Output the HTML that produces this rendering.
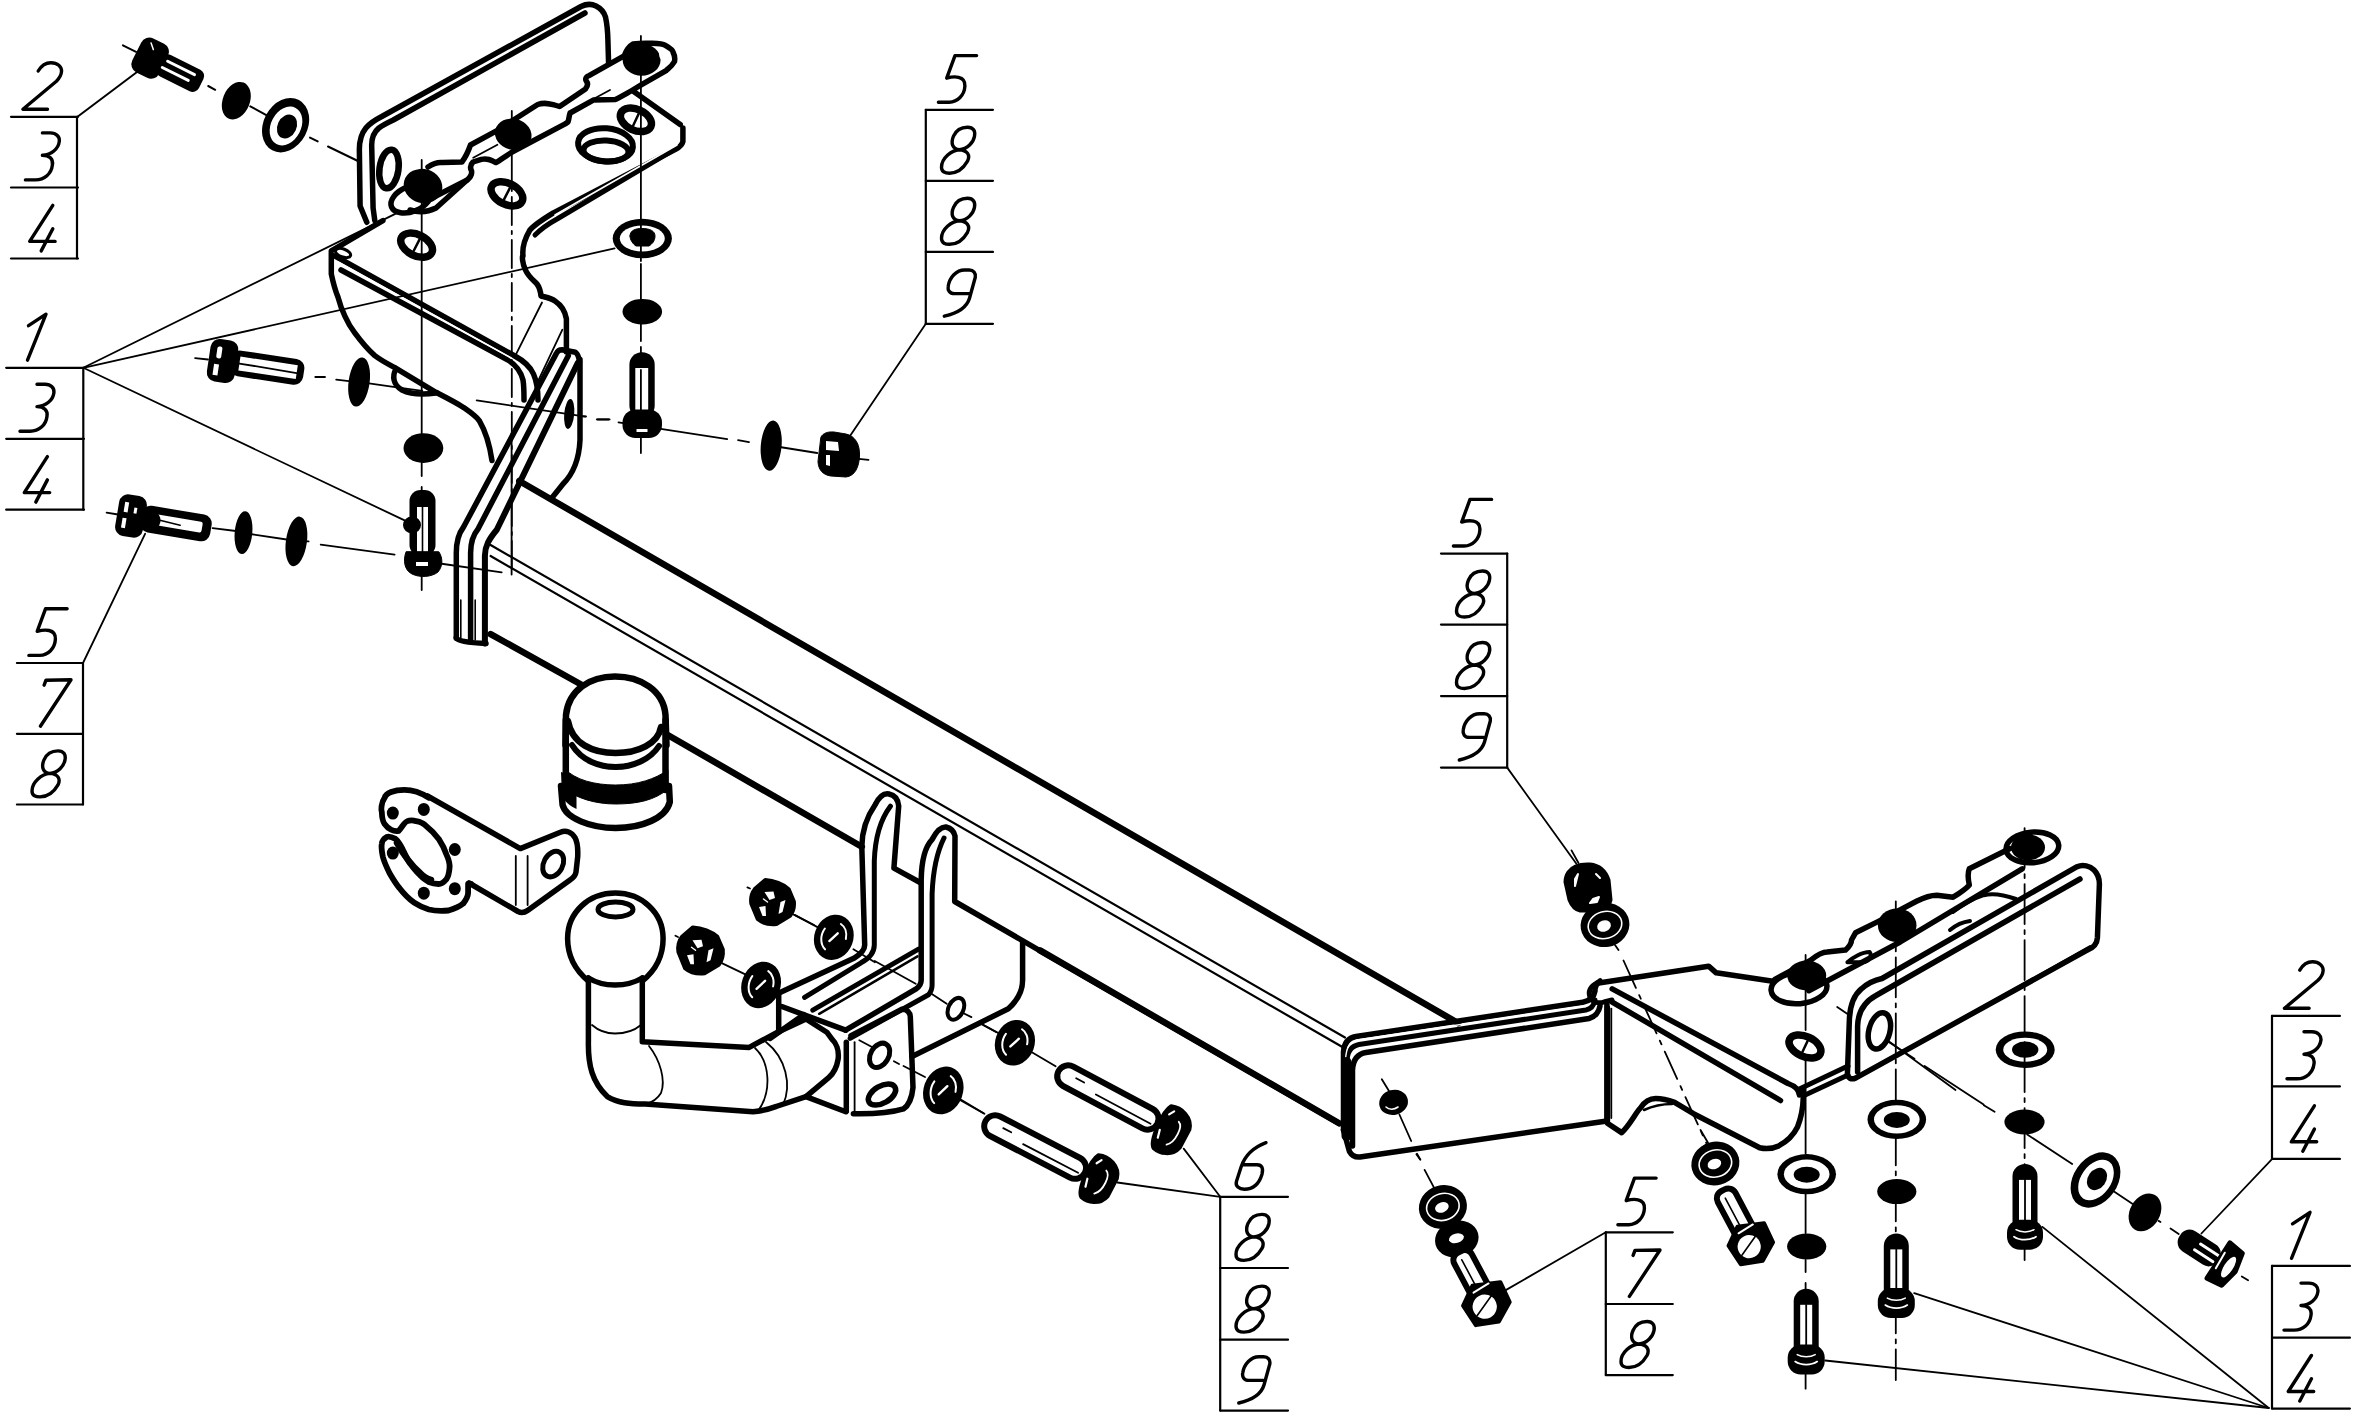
<!DOCTYPE html>
<html><head><meta charset="utf-8"><style>
html,body{margin:0;padding:0;background:#fff;}
svg{display:block;}
</style></head><body>
<svg xmlns="http://www.w3.org/2000/svg" width="2356" height="1427" viewBox="0 0 2356 1427" stroke-linecap="round" stroke-linejoin="round">
<rect width="2356" height="1427" fill="#fff"/>
<line x1="11" y1="116.8" x2="78" y2="116.8" stroke="#000" stroke-width="2.2" />
<line x1="11" y1="187.5" x2="78" y2="187.5" stroke="#000" stroke-width="2.2" />
<line x1="11" y1="258.5" x2="78" y2="258.5" stroke="#000" stroke-width="2.2" />
<line x1="77" y1="116.8" x2="77" y2="258.5" stroke="#000" stroke-width="2.2" />
<path d="M-4.2,-38.2 C-0.5,-44.5 4,-46.5 8.5,-46.5 C15,-46.5 19.5,-42.5 19.1,-37.5 C18.8,-33.5 17,-31 14,-28 L-19.5,0 L5.1,0" transform="translate(42.4 109.2)" fill="none" stroke="#000" stroke-width="3.4" stroke-linecap="round" stroke-linejoin="round"/>
<path d="M0,-47 L8,-47 C14,-47 17.5,-43 16.9,-38.5 C16,-31 9,-25 0,-24.6 C7,-24.6 11,-21 10,-15 C9,-6 2,0 -6.9,0 L-17,0" transform="translate(42.4 179.9)" fill="none" stroke="#000" stroke-width="3.4" stroke-linecap="round" stroke-linejoin="round"/>
<path d="M10.4,-45.5 L-12.7,-9.5 L12.7,-9.5 M10.4,-22.2 L-1.2,0" transform="translate(42.4 250.9)" fill="none" stroke="#000" stroke-width="3.4" stroke-linecap="round" stroke-linejoin="round"/>
<line x1="6.2" y1="367.8" x2="84" y2="367.8" stroke="#000" stroke-width="2.2" />
<line x1="6.2" y1="438.8" x2="84" y2="438.8" stroke="#000" stroke-width="2.2" />
<line x1="6.2" y1="509.7" x2="84" y2="509.7" stroke="#000" stroke-width="2.2" />
<line x1="83.3" y1="367.8" x2="83.3" y2="509.7" stroke="#000" stroke-width="2.2" />
<path d="M-8.5,-34.5 L9,-46 L-9.5,0" transform="translate(37 360.2)" fill="none" stroke="#000" stroke-width="3.4" stroke-linecap="round" stroke-linejoin="round"/>
<path d="M0,-47 L8,-47 C14,-47 17.5,-43 16.9,-38.5 C16,-31 9,-25 0,-24.6 C7,-24.6 11,-21 10,-15 C9,-6 2,0 -6.9,0 L-17,0" transform="translate(37 431.2)" fill="none" stroke="#000" stroke-width="3.4" stroke-linecap="round" stroke-linejoin="round"/>
<path d="M10.4,-45.5 L-12.7,-9.5 L12.7,-9.5 M10.4,-22.2 L-1.2,0" transform="translate(37 502.09999999999997)" fill="none" stroke="#000" stroke-width="3.4" stroke-linecap="round" stroke-linejoin="round"/>
<line x1="16.9" y1="663" x2="83" y2="663" stroke="#000" stroke-width="2.2" />
<line x1="16.9" y1="733.8" x2="83" y2="733.8" stroke="#000" stroke-width="2.2" />
<line x1="16.9" y1="804.5" x2="83" y2="804.5" stroke="#000" stroke-width="2.2" />
<line x1="83" y1="663" x2="83" y2="804.5" stroke="#000" stroke-width="2.2" />
<path d="M19.1,-46.6 L-2.5,-46.6 L-10.8,-24 C-4,-26 8,-27 7.4,-16.2 C7,-7 0,0 -8.3,0 L-19.1,0" transform="translate(48 655.4)" fill="none" stroke="#000" stroke-width="3.4" stroke-linecap="round" stroke-linejoin="round"/>
<path d="M-3.9,-41 L-2,-46 L23,-46.4 L-7.6,0" transform="translate(48 726.1999999999999)" fill="none" stroke="#000" stroke-width="3.4" stroke-linecap="round" stroke-linejoin="round"/>
<path d="M1.8,-23.5 C-5,-24 -7,-30 -4,-37 C-1,-44 5,-46 10,-46 C16,-46 18,-42 17,-37 C16,-31 10,-24 1.8,-23.5 C-6,-23 -16,-15 -16,-6 C-16,-1 -12,0 -8,0 C0,0 6,-5 10,-12 C13,-18 10,-23 1.8,-23.5 Z" transform="translate(48 796.9)" fill="none" stroke="#000" stroke-width="3.4" stroke-linecap="round" stroke-linejoin="round"/>
<line x1="925.8" y1="109.8" x2="993" y2="109.8" stroke="#000" stroke-width="2.2" />
<line x1="925.8" y1="180.8" x2="993" y2="180.8" stroke="#000" stroke-width="2.2" />
<line x1="925.8" y1="251.9" x2="993" y2="251.9" stroke="#000" stroke-width="2.2" />
<line x1="925.8" y1="323.8" x2="993" y2="323.8" stroke="#000" stroke-width="2.2" />
<line x1="925.8" y1="109.8" x2="925.8" y2="323.8" stroke="#000" stroke-width="2.2" />
<path d="M19.1,-46.6 L-2.5,-46.6 L-10.8,-24 C-4,-26 8,-27 7.4,-16.2 C7,-7 0,0 -8.3,0 L-19.1,0" transform="translate(957.5 102.2)" fill="none" stroke="#000" stroke-width="3.4" stroke-linecap="round" stroke-linejoin="round"/>
<path d="M1.8,-23.5 C-5,-24 -7,-30 -4,-37 C-1,-44 5,-46 10,-46 C16,-46 18,-42 17,-37 C16,-31 10,-24 1.8,-23.5 C-6,-23 -16,-15 -16,-6 C-16,-1 -12,0 -8,0 C0,0 6,-5 10,-12 C13,-18 10,-23 1.8,-23.5 Z" transform="translate(957.5 173.20000000000002)" fill="none" stroke="#000" stroke-width="3.4" stroke-linecap="round" stroke-linejoin="round"/>
<path d="M1.8,-23.5 C-5,-24 -7,-30 -4,-37 C-1,-44 5,-46 10,-46 C16,-46 18,-42 17,-37 C16,-31 10,-24 1.8,-23.5 C-6,-23 -16,-15 -16,-6 C-16,-1 -12,0 -8,0 C0,0 6,-5 10,-12 C13,-18 10,-23 1.8,-23.5 Z" transform="translate(957.5 244.3)" fill="none" stroke="#000" stroke-width="3.4" stroke-linecap="round" stroke-linejoin="round"/>
<path d="M11.2,-22.6 L-3,-22.6 C-8,-22.6 -10,-26 -9.3,-30 C-8,-39 -1,-46.2 7,-46.2 L11.7,-46.2 C16,-46.2 18.5,-43 17.8,-39 L12,-18 C9,-8 0,-3 -13.2,0" transform="translate(957.5 316.2)" fill="none" stroke="#000" stroke-width="3.4" stroke-linecap="round" stroke-linejoin="round"/>
<line x1="1441" y1="553.6" x2="1507.2" y2="553.6" stroke="#000" stroke-width="2.2" />
<line x1="1441" y1="624.6" x2="1507.2" y2="624.6" stroke="#000" stroke-width="2.2" />
<line x1="1441" y1="696.1" x2="1507.2" y2="696.1" stroke="#000" stroke-width="2.2" />
<line x1="1441" y1="767.6" x2="1507.2" y2="767.6" stroke="#000" stroke-width="2.2" />
<line x1="1507.2" y1="553.6" x2="1507.2" y2="767.6" stroke="#000" stroke-width="2.2" />
<path d="M19.1,-46.6 L-2.5,-46.6 L-10.8,-24 C-4,-26 8,-27 7.4,-16.2 C7,-7 0,0 -8.3,0 L-19.1,0" transform="translate(1472.5 546.0)" fill="none" stroke="#000" stroke-width="3.4" stroke-linecap="round" stroke-linejoin="round"/>
<path d="M1.8,-23.5 C-5,-24 -7,-30 -4,-37 C-1,-44 5,-46 10,-46 C16,-46 18,-42 17,-37 C16,-31 10,-24 1.8,-23.5 C-6,-23 -16,-15 -16,-6 C-16,-1 -12,0 -8,0 C0,0 6,-5 10,-12 C13,-18 10,-23 1.8,-23.5 Z" transform="translate(1472.5 617.0)" fill="none" stroke="#000" stroke-width="3.4" stroke-linecap="round" stroke-linejoin="round"/>
<path d="M1.8,-23.5 C-5,-24 -7,-30 -4,-37 C-1,-44 5,-46 10,-46 C16,-46 18,-42 17,-37 C16,-31 10,-24 1.8,-23.5 C-6,-23 -16,-15 -16,-6 C-16,-1 -12,0 -8,0 C0,0 6,-5 10,-12 C13,-18 10,-23 1.8,-23.5 Z" transform="translate(1472.5 688.5)" fill="none" stroke="#000" stroke-width="3.4" stroke-linecap="round" stroke-linejoin="round"/>
<path d="M11.2,-22.6 L-3,-22.6 C-8,-22.6 -10,-26 -9.3,-30 C-8,-39 -1,-46.2 7,-46.2 L11.7,-46.2 C16,-46.2 18.5,-43 17.8,-39 L12,-18 C9,-8 0,-3 -13.2,0" transform="translate(1472.5 760.0)" fill="none" stroke="#000" stroke-width="3.4" stroke-linecap="round" stroke-linejoin="round"/>
<line x1="1220.2" y1="1196.8" x2="1288" y2="1196.8" stroke="#000" stroke-width="2.2" />
<line x1="1220.2" y1="1268" x2="1288" y2="1268" stroke="#000" stroke-width="2.2" />
<line x1="1220.2" y1="1339.7" x2="1288" y2="1339.7" stroke="#000" stroke-width="2.2" />
<line x1="1220.2" y1="1410.6" x2="1288" y2="1410.6" stroke="#000" stroke-width="2.2" />
<line x1="1220.2" y1="1196.8" x2="1220.2" y2="1410.6" stroke="#000" stroke-width="2.2" />
<path d="M14,-46.5 C2,-42 -7,-34 -11,-22 L-15.5,-8 C-17,-3 -13,0 -7.6,0 C1,0 7,-5 10,-15 C11.5,-21 10,-24.5 5,-24.5 L-10,-24.5" transform="translate(1252 1189.2)" fill="none" stroke="#000" stroke-width="3.4" stroke-linecap="round" stroke-linejoin="round"/>
<path d="M1.8,-23.5 C-5,-24 -7,-30 -4,-37 C-1,-44 5,-46 10,-46 C16,-46 18,-42 17,-37 C16,-31 10,-24 1.8,-23.5 C-6,-23 -16,-15 -16,-6 C-16,-1 -12,0 -8,0 C0,0 6,-5 10,-12 C13,-18 10,-23 1.8,-23.5 Z" transform="translate(1252 1260.4)" fill="none" stroke="#000" stroke-width="3.4" stroke-linecap="round" stroke-linejoin="round"/>
<path d="M1.8,-23.5 C-5,-24 -7,-30 -4,-37 C-1,-44 5,-46 10,-46 C16,-46 18,-42 17,-37 C16,-31 10,-24 1.8,-23.5 C-6,-23 -16,-15 -16,-6 C-16,-1 -12,0 -8,0 C0,0 6,-5 10,-12 C13,-18 10,-23 1.8,-23.5 Z" transform="translate(1252 1332.1000000000001)" fill="none" stroke="#000" stroke-width="3.4" stroke-linecap="round" stroke-linejoin="round"/>
<path d="M11.2,-22.6 L-3,-22.6 C-8,-22.6 -10,-26 -9.3,-30 C-8,-39 -1,-46.2 7,-46.2 L11.7,-46.2 C16,-46.2 18.5,-43 17.8,-39 L12,-18 C9,-8 0,-3 -13.2,0" transform="translate(1252 1403.0)" fill="none" stroke="#000" stroke-width="3.4" stroke-linecap="round" stroke-linejoin="round"/>
<line x1="1605.8" y1="1232.3" x2="1672.8" y2="1232.3" stroke="#000" stroke-width="2.2" />
<line x1="1605.8" y1="1304" x2="1672.8" y2="1304" stroke="#000" stroke-width="2.2" />
<line x1="1605.8" y1="1375.1" x2="1672.8" y2="1375.1" stroke="#000" stroke-width="2.2" />
<line x1="1605.8" y1="1232.3" x2="1605.8" y2="1375.1" stroke="#000" stroke-width="2.2" />
<path d="M19.1,-46.6 L-2.5,-46.6 L-10.8,-24 C-4,-26 8,-27 7.4,-16.2 C7,-7 0,0 -8.3,0 L-19.1,0" transform="translate(1637 1224.7)" fill="none" stroke="#000" stroke-width="3.4" stroke-linecap="round" stroke-linejoin="round"/>
<path d="M-3.9,-41 L-2,-46 L23,-46.4 L-7.6,0" transform="translate(1637 1296.4)" fill="none" stroke="#000" stroke-width="3.4" stroke-linecap="round" stroke-linejoin="round"/>
<path d="M1.8,-23.5 C-5,-24 -7,-30 -4,-37 C-1,-44 5,-46 10,-46 C16,-46 18,-42 17,-37 C16,-31 10,-24 1.8,-23.5 C-6,-23 -16,-15 -16,-6 C-16,-1 -12,0 -8,0 C0,0 6,-5 10,-12 C13,-18 10,-23 1.8,-23.5 Z" transform="translate(1637 1367.5)" fill="none" stroke="#000" stroke-width="3.4" stroke-linecap="round" stroke-linejoin="round"/>
<line x1="2272" y1="1015.9" x2="2339.9" y2="1015.9" stroke="#000" stroke-width="2.2" />
<line x1="2272" y1="1086.4" x2="2339.9" y2="1086.4" stroke="#000" stroke-width="2.2" />
<line x1="2272" y1="1158.9" x2="2339.9" y2="1158.9" stroke="#000" stroke-width="2.2" />
<line x1="2272" y1="1015.9" x2="2272" y2="1158.9" stroke="#000" stroke-width="2.2" />
<path d="M-4.2,-38.2 C-0.5,-44.5 4,-46.5 8.5,-46.5 C15,-46.5 19.5,-42.5 19.1,-37.5 C18.8,-33.5 17,-31 14,-28 L-19.5,0 L5.1,0" transform="translate(2304 1008.3)" fill="none" stroke="#000" stroke-width="3.4" stroke-linecap="round" stroke-linejoin="round"/>
<path d="M0,-47 L8,-47 C14,-47 17.5,-43 16.9,-38.5 C16,-31 9,-25 0,-24.6 C7,-24.6 11,-21 10,-15 C9,-6 2,0 -6.9,0 L-17,0" transform="translate(2304 1078.8000000000002)" fill="none" stroke="#000" stroke-width="3.4" stroke-linecap="round" stroke-linejoin="round"/>
<path d="M10.4,-45.5 L-12.7,-9.5 L12.7,-9.5 M10.4,-22.2 L-1.2,0" transform="translate(2304 1151.3000000000002)" fill="none" stroke="#000" stroke-width="3.4" stroke-linecap="round" stroke-linejoin="round"/>
<line x1="2272" y1="1265.9" x2="2349.9" y2="1265.9" stroke="#000" stroke-width="2.2" />
<line x1="2272" y1="1337.7" x2="2349.9" y2="1337.7" stroke="#000" stroke-width="2.2" />
<line x1="2272" y1="1408.6" x2="2349.9" y2="1408.6" stroke="#000" stroke-width="2.2" />
<line x1="2272" y1="1265.9" x2="2272" y2="1408.6" stroke="#000" stroke-width="2.2" />
<path d="M-8.5,-34.5 L9,-46 L-9.5,0" transform="translate(2301 1258.3000000000002)" fill="none" stroke="#000" stroke-width="3.4" stroke-linecap="round" stroke-linejoin="round"/>
<path d="M0,-47 L8,-47 C14,-47 17.5,-43 16.9,-38.5 C16,-31 9,-25 0,-24.6 C7,-24.6 11,-21 10,-15 C9,-6 2,0 -6.9,0 L-17,0" transform="translate(2301 1330.1000000000001)" fill="none" stroke="#000" stroke-width="3.4" stroke-linecap="round" stroke-linejoin="round"/>
<path d="M10.4,-45.5 L-12.7,-9.5 L12.7,-9.5 M10.4,-22.2 L-1.2,0" transform="translate(2301 1401.0)" fill="none" stroke="#000" stroke-width="3.4" stroke-linecap="round" stroke-linejoin="round"/>
<line x1="77.5" y1="116.8" x2="136.7" y2="72.3" stroke="#000" stroke-width="2" />
<line x1="122.9" y1="45.3" x2="136" y2="51.8" stroke="#000" stroke-width="2" />
<line x1="208.2" y1="86" x2="215.2" y2="89.8" stroke="#000" stroke-width="2" />
<line x1="250.3" y1="106.4" x2="266.8" y2="115.3" stroke="#000" stroke-width="2" />
<line x1="310" y1="137.6" x2="317.7" y2="141.4" stroke="#000" stroke-width="2" />
<line x1="328" y1="146.5" x2="360" y2="162" stroke="#000" stroke-width="2" />
<g transform="translate(152 59) rotate(26.5)"><rect x="-17" y="-19" width="30" height="38" rx="9" fill="#000"/><rect x="8" y="-12" width="47" height="24" rx="7" fill="#000"/><line x1="15" y1="-5" x2="45" y2="-5" stroke="#fff" stroke-width="3"/><line x1="13" y1="3" x2="42" y2="3" stroke="#fff" stroke-width="3"/><line x1="-8" y1="-14" x2="-3" y2="-9" stroke="#fff" stroke-width="1.5"/></g>
<ellipse cx="236.3" cy="100.7" rx="13.5" ry="19.5" transform="rotate(22 236.3 100.7)" fill="#000"/>
<ellipse cx="285.6" cy="125.2" rx="22" ry="28.5" transform="rotate(28 285.6 125.2)" fill="#000"/>
<ellipse cx="286" cy="126" rx="15" ry="20.5" transform="rotate(28 286 126)" fill="#fff"/>
<ellipse cx="287" cy="126.5" rx="9.5" ry="12.5" transform="rotate(25 287 126.5)" fill="#000"/>
<path d="M366.8,222.3 L360.1,206 L359.4,151.6 C359,140 361,134 365.9,128 C370,123 375,120 381.8,116.5 L581,6.5 C586,4 592,4 596,6 C600,8 604,12 605.5,17 C607,24 607.7,30 607.9,40 L608.6,63.5" fill="none" stroke="#000" stroke-width="5.5" />
<path d="M374.8,220.6 L373.1,208 L371.7,146 C371.5,138 374,132 378.9,128 C383,125 387,123 393.3,120 L585,13" fill="none" stroke="#000" stroke-width="5.5" />
<path d="M428,167 C434,163 438,162 442.6,162.6 L461.9,162 C465,158 468,152 470.5,145 L497.4,130.3 L537.7,104.5 C545,102 552,104 559.6,106.5 L585.5,88.9 C588,86 588,83 586,80.5 C585,78 587,76 589,75.6 L624.1,55.9 C626,51 628,47 633.2,44 C640,43 645,43 652.1,43.3 C658,43.5 663,44 665.4,45.4 C670,48 673,50 673.1,52.4 C675,56 675,59 674.5,61.5 C672,66 669,68 666.1,70.6 L641.6,84.7 L631,91 C626,94 620,97 615.7,99.4 L593.3,100.1 L570.1,113 C569,116 569,119 568,122 L565.2,123.9 L513.5,151.3 C505,156 500,161 495.8,162.6 C491,160 487,158 481.3,159.4 L473,162 C470,165 470,168 471.6,171 C472,174 471,177 466.8,180.3 L432,198" fill="none" stroke="#000" stroke-width="5.5" />
<path d="M410,210 C420,213 428,212 436,208 L466.8,180.3" fill="none" stroke="#000" stroke-width="5.5" />
<ellipse cx="411" cy="199" rx="21" ry="12.5" transform="rotate(-22 411 199)" fill="none" stroke="#000" stroke-width="5.5"/>
<line x1="473.2" y1="157.7" x2="497.4" y2="144.8" stroke="#000" stroke-width="1.8" />
<line x1="575" y1="109" x2="610" y2="90" stroke="#000" stroke-width="1.8" />
<path d="M633,91 L680.2,124.6" fill="none" stroke="#000" stroke-width="5.5" />
<ellipse cx="423" cy="186" rx="19.5" ry="17" transform="rotate(15 423 186)" fill="#000"/>
<ellipse cx="513.2" cy="134.3" rx="18.5" ry="15.5" transform="rotate(15 513.2 134.3)" fill="#000"/>
<ellipse cx="641.6" cy="59.8" rx="19" ry="16" transform="rotate(0 641.6 59.8)" fill="#000"/>
<ellipse cx="664" cy="57" rx="4" ry="7" transform="rotate(-30 664 57)" fill="#fff"/>
<ellipse cx="416.6" cy="245.2" rx="17" ry="10.5" transform="rotate(27 416.6 245.2)" fill="none" stroke="#000" stroke-width="7.5"/>
<ellipse cx="416.6" cy="245.2" rx="9.350000000000001" ry="3.15" transform="rotate(27 416.6 245.2)" fill="#fff"/>
<line x1="416.6" y1="234.7" x2="416.6" y2="255.7" stroke="#000" stroke-width="2.5" transform="rotate(27 416.6 245.2)"/>
<ellipse cx="506.9" cy="193.8" rx="17" ry="10.5" transform="rotate(27 506.9 193.8)" fill="none" stroke="#000" stroke-width="7.5"/>
<ellipse cx="506.9" cy="193.8" rx="9.350000000000001" ry="3.15" transform="rotate(27 506.9 193.8)" fill="#fff"/>
<line x1="506.9" y1="183.3" x2="506.9" y2="204.3" stroke="#000" stroke-width="2.5" transform="rotate(27 506.9 193.8)"/>
<ellipse cx="635.9" cy="119.8" rx="16.5" ry="10.5" transform="rotate(25 635.9 119.8)" fill="none" stroke="#000" stroke-width="7.5"/>
<ellipse cx="635.9" cy="119.8" rx="9.075000000000001" ry="3.15" transform="rotate(25 635.9 119.8)" fill="#fff"/>
<line x1="635.9" y1="109.3" x2="635.9" y2="130.3" stroke="#000" stroke-width="2.5" transform="rotate(25 635.9 119.8)"/>
<ellipse cx="605.5" cy="144.8" rx="27.5" ry="16.5" transform="rotate(5 605.5 144.8)" fill="none" stroke="#000" stroke-width="6"/>
<ellipse cx="606" cy="151" rx="22.5" ry="10.5" transform="rotate(3 606 151)" fill="none" stroke="#000" stroke-width="6"/>
<ellipse cx="389" cy="169" rx="9.5" ry="19.5" transform="rotate(8 389 169)" fill="none" stroke="#000" stroke-width="6.5"/>
<ellipse cx="388" cy="168" rx="3" ry="12" transform="rotate(8 388 168)" fill="#fff"/>
<path d="M382.9,220.6 L331.3,250.9 L331.3,274 C333,282 335,290 338,297.1 C340,305 342,310 344.9,316.1 C348,323 351,328 354.4,332.4 C360,340 366,348 374.8,355.6 C382,361 388,364 395.2,367.8 L435.9,392.3 C447,398 455,402 463.1,407.2 C470,412 476,416 479.4,420.8 C486,432 490,447 492,460.6" fill="none" stroke="#000" stroke-width="5.5" />
<path d="M335,256 L514.8,356 C524,361 530,366 533.5,374 C537,382 538,390 538,400" fill="none" stroke="#000" stroke-width="5.5" />
<path d="M341,270 L508,360 C516,365 521,372 523,380 C524,386 524,392 524,400" fill="none" stroke="#000" stroke-width="5.5" />
<path d="M338,262 L511,358" fill="none" stroke="#fff" stroke-width="1.5" />
<ellipse cx="343" cy="253" rx="8" ry="4" transform="rotate(20 343 253)" fill="none" stroke="#000" stroke-width="3"/>
<path d="M682.9,128 L682.9,141.6 C682,145 680,147 676,149 L553.9,212.6 C545,218 535,224 529.7,230.3 C524,240 522,247 523,256 C522,255 522,263 525.5,270 C528,276 533,280 537,284 C540,288 540.6,292 541,296 C545,297 551,298 555,301 C561,305 565,310 566.4,318.8 L566.4,352" fill="none" stroke="#000" stroke-width="5.5" />
<path d="M671.6,151 L557.1,219 C548,224 541,229 535,235" fill="none" stroke="#000" stroke-width="5" />
<path d="M677,145 L555,215" fill="none" stroke="#fff" stroke-width="1.6" />
<line x1="542" y1="302.5" x2="516.1" y2="354.2" stroke="#000" stroke-width="1.8" />
<line x1="562.4" y1="329.7" x2="537.9" y2="381.4" stroke="#000" stroke-width="1.8" />
<line x1="421.7" y1="160" x2="421.7" y2="476" stroke="#000" stroke-width="1.8" />
<line x1="421.7" y1="487" x2="421.7" y2="590" stroke="#000" stroke-width="1.8" />
<line x1="511.8" y1="111" x2="511.8" y2="575" stroke="#000" stroke-width="1.8" stroke-dasharray="28 6 3 6"/>
<ellipse cx="359.1" cy="382" rx="10.5" ry="24.8" transform="rotate(8 359.1 382)" fill="#000"/>
<path d="M396,369 C392,376 393,385 402,390 C410,394 422,395 436,393" fill="none" stroke="#000" stroke-width="5.5" />
<line x1="398.8" y1="387.7" x2="422.3" y2="390.9" stroke="#000" stroke-width="1.8" />
<line x1="476.7" y1="400.4" x2="585.5" y2="416.7" stroke="#000" stroke-width="1.8" />
<line x1="597.7" y1="419.5" x2="608.6" y2="419.5" stroke="#000" stroke-width="1.8" />
<line x1="439.9" y1="563.5" x2="501.7" y2="572.3" stroke="#000" stroke-width="1.8" />
<line x1="83.3" y1="367.8" x2="397.8" y2="212.6" stroke="#000" stroke-width="1.8" />
<line x1="83.3" y1="367.8" x2="404.6" y2="520.4" stroke="#000" stroke-width="1.8" />
<line x1="83" y1="663" x2="145.2" y2="533.7" stroke="#000" stroke-width="1.8" />
<path d="M456.3,638.2 L456.3,553 C456.3,543 459,533 463.4,527.3 L556.4,353.4 C558,350 560,349.8 562,349.8 L575.4,352.2 C578,354 579,357 579.5,362" fill="none" stroke="#000" stroke-width="5.5" />
<path d="M470.6,640.9 L470.6,553 C470.6,543 473,535 478,529 L568.3,355.7" fill="none" stroke="#000" stroke-width="5.5" />
<path d="M484.9,643.5 L484.9,555.7 C485,546 489,539 496.8,529.7 L577.8,362.9" fill="none" stroke="#000" stroke-width="6" />
<path d="M460.8,600 L460.8,638 M475.2,600 L475.2,640" fill="none" stroke="#000" stroke-width="1.6" />
<path d="M456.3,638 C458,641 470,643 486,643.5" fill="none" stroke="#000" stroke-width="5.5" />
<path d="M580,359.6 L580,440 C579,462 572,475 563,484 L552.4,497.2" fill="none" stroke="#000" stroke-width="5.5" />
<ellipse cx="569.2" cy="414" rx="5" ry="15" transform="rotate(5 569.2 414)" fill="#000"/>
<path d="M519.3,481 L1458.3,1023.2" fill="none" stroke="#000" stroke-width="6.5" />
<path d="M490.6,634.1 L582,685" fill="none" stroke="#000" stroke-width="6.5" />
<path d="M666,734 L861.8,846.7" fill="none" stroke="#000" stroke-width="6.5" />
<line x1="490.6" y1="545" x2="1345" y2="1037.5" stroke="#000" stroke-width="2.2" />
<line x1="490.6" y1="556" x2="1345" y2="1048.5" stroke="#000" stroke-width="2.2" />
<line x1="511.6" y1="433.2" x2="511.6" y2="574.5" stroke="#000" stroke-width="1.8" />
<g transform="translate(131 516) rotate(9.5)"><rect x="-14" y="-21" width="28" height="42" rx="9" fill="#000"/><rect x="-8" y="-13" width="4" height="10" fill="#fff"/><rect x="-8" y="3" width="4" height="10" fill="#fff"/><rect x="2" y="-9" width="3" height="6" fill="#fff"/><rect x="10" y="-13.5" width="71" height="27" rx="9" fill="#000"/><rect x="20" y="-6" width="52" height="11" rx="2" fill="#fff"/><line x1="24" y1="-1" x2="50" y2="1" stroke="#000" stroke-width="1.5"/><circle cx="20" cy="1" r="10" fill="#000"/></g>
<line x1="106.6" y1="512.7" x2="118" y2="514.5" stroke="#000" stroke-width="1.8" />
<line x1="212.6" y1="528.1" x2="240" y2="531.5" stroke="#000" stroke-width="1.8" />
<line x1="250" y1="534" x2="290" y2="540" stroke="#000" stroke-width="1.8" />
<line x1="300" y1="541" x2="308.6" y2="541.4" stroke="#000" stroke-width="1.8" />
<line x1="320.7" y1="544.7" x2="394.6" y2="554.6" stroke="#000" stroke-width="1.8" />
<ellipse cx="243.5" cy="532.6" rx="8.8" ry="21.5" transform="rotate(5 243.5 532.6)" fill="#000"/>
<ellipse cx="296.4" cy="541.4" rx="10.5" ry="25" transform="rotate(8 296.4 541.4)" fill="#000"/>
<rect x="409.5" y="490" width="26" height="66" rx="11" fill="#000"/>
<rect x="417" y="507" width="11" height="58" fill="#fff"/>
<line x1="422.5" y1="507" x2="422.5" y2="565" stroke="#000" stroke-width="1.6" />
<path d="M406,552 C403,560 404,570 412,574 C420,578 432,577 438,572 C443,566 443,558 439,552 Z" fill="#000" stroke="#000" stroke-width="1" />
<ellipse cx="412" cy="525" rx="9" ry="8.5" transform="rotate(0 412 525)" fill="#000"/>
<rect x="416" y="562" width="12" height="4" fill="#fff"/>
<ellipse cx="423.4" cy="448.1" rx="19.9" ry="14.9" transform="rotate(0 423.4 448.1)" fill="#000"/>
<ellipse cx="642.3" cy="238.5" rx="29.6" ry="19.8" transform="rotate(0 642.3 238.5)" fill="#000"/>
<ellipse cx="642.3" cy="238.5" rx="22.5" ry="13" transform="rotate(0 642.3 238.5)" fill="#fff"/>
<path d="M630,236 C630,230 636,228.5 642,228.5 C650,228.5 655,231 655,236 C655,241 652,244 649,246 L636,246 C633,244 630,240 630,236 Z" fill="#000" stroke="#000" stroke-width="1" />
<ellipse cx="642.3" cy="311.7" rx="19.8" ry="12.8" transform="rotate(0 642.3 311.7)" fill="#000"/>
<line x1="640.9" y1="36" x2="640.9" y2="261" stroke="#000" stroke-width="1.8" />
<line x1="640.9" y1="264" x2="640.9" y2="341" stroke="#000" stroke-width="1.8" />
<line x1="640.9" y1="347" x2="640.9" y2="453" stroke="#000" stroke-width="1.8" />
<rect x="629.4" y="352.2" width="25.3" height="66" rx="12.5" fill="#000"/>
<rect x="635.3" y="368" width="12.9" height="48" fill="#fff"/>
<line x1="640.9" y1="370" x2="640.9" y2="418" stroke="#000" stroke-width="1.8" />
<rect x="622.5" y="409.5" width="39.5" height="28.6" rx="13" fill="#000"/>
<rect x="636.5" y="429" width="11" height="3" fill="#fff"/>
<line x1="580" y1="416.4" x2="586" y2="416.4" stroke="#000" stroke-width="1.8" />
<line x1="596.8" y1="419.4" x2="609.6" y2="419.4" stroke="#000" stroke-width="1.8" />
<line x1="618.5" y1="422.3" x2="727.2" y2="439.1" stroke="#000" stroke-width="1.8" />
<line x1="738.1" y1="440.1" x2="749" y2="442.1" stroke="#000" stroke-width="1.8" />
<line x1="779.6" y1="447" x2="817.2" y2="453" stroke="#000" stroke-width="1.8" />
<line x1="858.7" y1="458.9" x2="868.5" y2="459.9" stroke="#000" stroke-width="1.8" />
<ellipse cx="771.2" cy="445.6" rx="10.4" ry="25.2" transform="rotate(5 771.2 445.6)" fill="#000"/>
<path d="M821,437 C823,433 828,431.5 834,432 L846,434 C855,436 860,444 859.5,456 C859,467 855,476 846,477 L831,476 C823,475 818.5,470 818,462 Z" fill="#000" stroke="#000" stroke-width="1" />
<path d="M826,441 L838,442 L839,451 L826,450 Z M826,455 L830,455 L830,466 L826,465 Z" fill="#fff"/>
<line x1="846" y1="443" x2="843" y2="472" stroke="#000" stroke-width="1.2" />
<line x1="849.8" y1="436.2" x2="925.8" y2="323.8" stroke="#000" stroke-width="1.8" />
<line x1="83.3" y1="367.8" x2="614.6" y2="248.4" stroke="#000" stroke-width="1.8" />
<path d="M565.5,745 L566,715 C568.5,690 590,676.5 615,676.5 C640,676.5 663.5,690 665.5,715 L666.5,745" fill="none" stroke="#000" stroke-width="6.5" />
<line x1="565.8" y1="720" x2="565.8" y2="790" stroke="#000" stroke-width="6.5" />
<line x1="665.5" y1="720" x2="665.5" y2="790" stroke="#000" stroke-width="6.5" />
<path d="M568,721 C572,744 593,753 615.6,753 C638,753 658,744 661,727" fill="none" stroke="#000" stroke-width="6.5" />
<path d="M572,745 C582,761 600,767 615.6,767 C632,767 650,760 659,746" fill="none" stroke="#000" stroke-width="6" />
<path d="M565,769 C575,780 595,785 615.6,785 C638,785 655,779 668,770 L668,789 C655,800 638,804 615.6,804 C595,804 576,798 565,789 Z" fill="#000" stroke="#000" stroke-width="1" />
<path d="M561,772 L576.5,777 L576.5,809 C570,806 564,801 562,796 Z" fill="#000"/>
<path d="M561,786 L562.6,805 C566,818 590,828 615.6,828 C642,828 666,818 669.8,802 L669,786" fill="none" stroke="#000" stroke-width="6.5" />
<path d="M427.4,796 L520.3,848.6 L560.4,832.2 C566,830 572,832 575,837.7 C578,843 578,850 577.7,856.8 L576,872 C575.5,876 573,878 570,880 L527.6,910.5 C524,913 521,913 518,911.5 L469,883" fill="none" stroke="#000" stroke-width="5.5" />
<path d="M428.9,797.7 C420,792 412,789.8 404.3,789.8 C394,789.8 386,793 384.7,797.7 C381,803 381,810 381.8,812 C382,818 383,822 384.7,824.2 C388,829 394,832 398.5,831 C402,828 404,822 407.3,821.2 C410,820 413,820 416.1,821.2 C420,822 423,823 425,825.1 C431,830 435,834 438.7,838.9 C442,844 445,850 446.5,854.6 C449,860 450,865 449.5,868.3 C449,874 448,877 446.5,879.1 C444,882 441,884 438.7,884 C435,884 431,883 428.9,882.1 C424,879 421,877 419.1,874.2 C415,870 412,866 409.3,862.4 C406,857 404,852 402.4,848.7 C400,844 398,841 395.5,838.9 C392,837 389,836 386.7,836.9 C383,839 382,841 381.8,843.8 C381,848 382,852 382.8,856.5 C384,862 387,868 389.6,873.2 C393,879 396,884 399.4,888 C404,894 409,899 414.2,902.7 C419,906 424,908 428.9,909.5 C435,911 442,911 448.5,910.5 C454,909 459,907 463.2,903.6 C466,900 468,896 468.1,892.9 L468.1,884 L471,884" fill="none" stroke="#000" stroke-width="5.8" />
<path d="M397,843 C402,852 410,864 420,873 C424,877 427,879 431,880" fill="none" stroke="#000" stroke-width="6.5" />
<line x1="515.8" y1="855.9" x2="515.8" y2="905.1" stroke="#000" stroke-width="1.8" />
<line x1="527.6" y1="855.9" x2="527.6" y2="905.1" stroke="#000" stroke-width="1.8" />
<ellipse cx="553.2" cy="864.1" rx="9.5" ry="13.5" transform="rotate(28 553.2 864.1)" fill="none" stroke="#000" stroke-width="5"/>
<ellipse cx="553.2" cy="864.1" rx="2" ry="7" transform="rotate(28 553.2 864.1)" fill="#fff"/>
<ellipse cx="392.8" cy="813.1" rx="6" ry="6.5" transform="rotate(0 392.8 813.1)" fill="#000"/>
<ellipse cx="423.8" cy="809.4" rx="6" ry="6.5" transform="rotate(0 423.8 809.4)" fill="#000"/>
<ellipse cx="454.8" cy="849.5" rx="6" ry="6.5" transform="rotate(0 454.8 849.5)" fill="#000"/>
<ellipse cx="454.8" cy="888.7" rx="6" ry="6.5" transform="rotate(0 454.8 888.7)" fill="#000"/>
<ellipse cx="423.8" cy="893.2" rx="6" ry="6.5" transform="rotate(0 423.8 893.2)" fill="#000"/>
<ellipse cx="392.8" cy="853.1" rx="6" ry="6.5" transform="rotate(0 392.8 853.1)" fill="#000"/>
<path d="M588.4,981 C575,970 567.6,955 567.6,938.5 C567.6,912 589,893.1 615.4,893.1 C641,893.1 663.1,912 663.1,938.5 C663.1,955 656,970 642.3,981" fill="none" stroke="#000" stroke-width="5.5" />
<path d="M588.4,978 C598,984 606,985 615,985 C625,985 634,983 642.3,978" fill="none" stroke="#000" stroke-width="5.5" />
<ellipse cx="615.5" cy="909.4" rx="17.5" ry="7.5" transform="rotate(0 615.5 909.4)" fill="none" stroke="#000" stroke-width="5"/>
<path d="M588.4,978 L588.4,1041.7 C588,1065 592,1082 607.3,1096.6 C618,1103 630,1104 645.2,1104.1 L753,1111.7 C765,1111 772,1108 777.6,1106 L806,1096.6 L828.7,1077.6 C834,1073 837,1066 838.2,1058.7 C839,1050 836,1043 832.5,1039.8 L826.8,1032.2 L806,1019" fill="none" stroke="#000" stroke-width="5.5" />
<path d="M642.3,978 L642.3,1041.7 L749.2,1047.4 L777.6,1032.2 L806,1019" fill="none" stroke="#000" stroke-width="5.5" />
<path d="M592,1025 C600,1032 607,1033.5 615,1033.5 C625,1033.5 635,1030 641,1025" fill="none" stroke="#000" stroke-width="1.8" />
<path d="M649,1046 C660,1060 666,1080 661,1093 C658,1098 653,1102 646,1104" fill="none" stroke="#000" stroke-width="1.8" />
<path d="M755,1048 C770,1062 772,1092 758,1111" fill="none" stroke="#000" stroke-width="1.8" />
<path d="M766,1042 C786,1058 792,1085 783,1105" fill="none" stroke="#000" stroke-width="1.8" />
<path d="M806,1096.6 L845.8,1111.7" fill="none" stroke="#000" stroke-width="5.5" />
<path d="M779,993 L853.8,958.3 C861,954 864.7,950 864.7,945 L861.8,846.7 C862,830 868,815 875,805 C879,797 884,793 889,794 C894,795 898,799 898.7,806 L893.9,868.2 L920.1,882.5" fill="none" stroke="#000" stroke-width="5.5" />
<path d="M804.6,997.4 L861,962.8 C870,958 874.3,953 874.3,945 L874.3,861 C875,840 880,820 890.4,806.2" fill="none" stroke="#000" stroke-width="5" />
<path d="M845.6,1030.2 L915.7,989.2 C919,987 921.2,984 921.2,980 L921.2,880 C921.5,860 925,847 932,839.6 C936,832 941,826.5 946,827 C950,828 954,831 955,836 L954.7,901.5 L1339,1123.3" fill="none" stroke="#000" stroke-width="5.5" />
<path d="M850.1,1038.4 L928.5,994.7 C931,992 932.1,989 932.1,985 L932.1,894 C933,870 938,850 944,838" fill="none" stroke="#000" stroke-width="5" />
<path d="M812.8,1010.2 L918.5,949.1" fill="none" stroke="#000" stroke-width="5" />
<path d="M819.2,1013.8 L917.5,956.4" fill="none" stroke="#000" stroke-width="2.5" />
<path d="M781.8,1006.5 L845.6,1030.2" fill="none" stroke="#000" stroke-width="5.5" />
<path d="M778.7,995 L778.7,1032" fill="none" stroke="#000" stroke-width="5.5" />
<path d="M770,1038.4 L803.7,1014.7" fill="none" stroke="#000" stroke-width="5.5" />
<line x1="846.3" y1="1042.2" x2="846.3" y2="1111.3" stroke="#000" stroke-width="5.5" />
<line x1="854.6" y1="1042.2" x2="854.6" y2="1111.3" stroke="#000" stroke-width="1.8" />
<path d="M851,1035.7 L902,1009.3 C907,1009 910.3,1013 910.3,1016.5 L913,1087.4 C912,1098 908,1106 903.5,1108.9 C890,1113 870,1114 853.4,1113.7" fill="none" stroke="#000" stroke-width="5.5" />
<ellipse cx="879.6" cy="1055.3" rx="9" ry="13" transform="rotate(30 879.6 1055.3)" fill="none" stroke="#000" stroke-width="5"/>
<ellipse cx="879.6" cy="1055.3" rx="2" ry="6" transform="rotate(30 879.6 1055.3)" fill="#fff"/>
<ellipse cx="882" cy="1094.6" rx="15" ry="8.5" transform="rotate(-30 882 1094.6)" fill="none" stroke="#000" stroke-width="5.5"/>
<ellipse cx="882" cy="1094.6" rx="7" ry="2" transform="rotate(-30 882 1094.6)" fill="#fff"/>
<path d="M912,1056.5 L1008.3,1008.8 C1018,1000 1022.6,990 1022.6,980.2 L1022.6,942" fill="none" stroke="#000" stroke-width="5.5" />
<ellipse cx="955.9" cy="1008.8" rx="7.5" ry="11.5" transform="rotate(25 955.9 1008.8)" fill="none" stroke="#000" stroke-width="4"/>
<line x1="793.8" y1="914.7" x2="814" y2="925" stroke="#000" stroke-width="1.8" />
<line x1="853.4" y1="949.2" x2="874.9" y2="962.3" stroke="#000" stroke-width="1.8" />
<line x1="874.7" y1="961" x2="915.7" y2="983.8" stroke="#000" stroke-width="1.8" />
<line x1="930.3" y1="992.9" x2="946.7" y2="1003.8" stroke="#000" stroke-width="1.8" />
<line x1="963" y1="1013" x2="971.4" y2="1017.1" stroke="#000" stroke-width="1.8" />
<line x1="979.7" y1="1023.1" x2="996" y2="1032" stroke="#000" stroke-width="1.8" />
<line x1="859.3" y1="1040.2" x2="872.9" y2="1047.5" stroke="#000" stroke-width="1.8" />
<line x1="893.9" y1="1061.2" x2="899" y2="1064" stroke="#000" stroke-width="1.8" />
<line x1="903.5" y1="1066" x2="925" y2="1077" stroke="#000" stroke-width="1.8" />
<line x1="960.7" y1="1099.4" x2="984.5" y2="1113.7" stroke="#000" stroke-width="1.8" />
<line x1="747.4" y1="887.4" x2="750" y2="888.5" stroke="#000" stroke-width="1.8" />
<line x1="794.7" y1="914.9" x2="819.3" y2="928.1" stroke="#000" stroke-width="1.8" />
<line x1="675.4" y1="935.7" x2="678" y2="937" stroke="#000" stroke-width="1.8" />
<line x1="721.8" y1="963.1" x2="747.4" y2="975.4" stroke="#000" stroke-width="1.8" />
<g transform="translate(772.5 903) rotate(15)"><path d="M-12.88,-20.240000000000002 C-4.6000000000000005,-22.0 5.52,-21.119999999999997 11.96,-17.6 L20.24,-7.04 C22.08,-2.2 22.08,3.52 20.24,7.92 L9.200000000000001,19.36 C2.3000000000000003,22.0 -4.6000000000000005,22.0 -10.12,19.36 L-20.24,6.16 C-22.54,0.88 -22.54,-4.4 -20.7,-8.8 Z" fill="#000" stroke="#000" stroke-width="4" stroke-linejoin="round"/></g>
<g transform="translate(772.5 903)"><path d="M-8,-11 L1,-11.5 L2.5,-5 L-3,-3 Z M-13.5,4 L-7,3 L-6.5,13 L-10,13 Z M8,-1 L13,-3 L10,9 L6,11 Z" fill="#fff"/><line x1="-9" y1="-4" x2="-5" y2="-1" stroke="#fff" stroke-width="1.4"/></g>
<g transform="translate(700.5 951.3) rotate(15)"><path d="M-13.440000000000001,-21.16 C-4.800000000000001,-23.0 5.76,-22.08 12.48,-18.400000000000002 L21.12,-7.36 C23.04,-2.3000000000000003 23.04,3.68 21.12,8.28 L9.600000000000001,20.24 C2.4000000000000004,23.0 -4.800000000000001,23.0 -10.56,20.24 L-21.12,6.44 C-23.52,0.92 -23.52,-4.6000000000000005 -21.6,-9.200000000000001 Z" fill="#000" stroke="#000" stroke-width="4" stroke-linejoin="round"/></g>
<g transform="translate(700.5 951.3)"><path d="M-8,-11 L1,-11.5 L2.5,-5 L-3,-3 Z M-13.5,4 L-7,3 L-6.5,13 L-10,13 Z M8,-1 L13,-3 L10,9 L6,11 Z" fill="#fff"/><line x1="-9" y1="-4" x2="-5" y2="-1" stroke="#fff" stroke-width="1.4"/></g>
<ellipse cx="833.8" cy="937.3" rx="19.5" ry="23" transform="rotate(20 833.8 937.3)" fill="#000"/>
<path d="M829.7,951.6 A12.1,15.2 0 0 1 822.4,932.1 M835.9,922.4 A12.1,15.2 0 0 1 845.7,934.7" transform="rotate(20 833.8 937.3)" fill="none" stroke="#fff" stroke-width="2"/>
<path d="M830.875,942.3599999999999 L836.14,932.24" transform="rotate(20 833.8 937.3)" fill="none" stroke="#fff" stroke-width="2.4"/>
<ellipse cx="761.1" cy="984.9" rx="19.4" ry="23.7" transform="rotate(20 761.1 984.9)" fill="#000"/>
<path d="M757.0,999.6 A12.0,15.6 0 0 1 749.8,979.6 M763.2,969.5 A12.0,15.6 0 0 1 772.9,982.2" transform="rotate(20 761.1 984.9)" fill="none" stroke="#fff" stroke-width="2"/>
<path d="M758.19,990.114 L763.428,979.6859999999999" transform="rotate(20 761.1 984.9)" fill="none" stroke="#fff" stroke-width="2.4"/>
<ellipse cx="1014.9" cy="1042.7" rx="19.7" ry="23.2" transform="rotate(20 1014.9 1042.7)" fill="#000"/>
<path d="M1010.7,1057.1 A12.2,15.3 0 0 1 1003.4,1037.5 M1017.0,1027.6 A12.2,15.3 0 0 1 1026.9,1040.0" transform="rotate(20 1014.9 1042.7)" fill="none" stroke="#fff" stroke-width="2"/>
<path d="M1011.9449999999999,1047.804 L1017.264,1037.596" transform="rotate(20 1014.9 1042.7)" fill="none" stroke="#fff" stroke-width="2.4"/>
<ellipse cx="943.3" cy="1090.4" rx="19.7" ry="24.4" transform="rotate(20 943.3 1090.4)" fill="#000"/>
<path d="M939.1,1105.5 A12.2,16.1 0 0 1 931.8,1084.9 M945.4,1074.5 A12.2,16.1 0 0 1 955.3,1087.6" transform="rotate(20 943.3 1090.4)" fill="none" stroke="#fff" stroke-width="2"/>
<path d="M940.3449999999999,1095.768 L945.664,1085.0320000000002" transform="rotate(20 943.3 1090.4)" fill="none" stroke="#fff" stroke-width="2.4"/>
<g transform="translate(1062 1073) rotate(28.1)"><rect x="-4" y="-11" width="112" height="22" rx="11" fill="#fff" stroke="#000" stroke-width="6"/><line x1="40" y1="3" x2="102" y2="3" stroke="#000" stroke-width="1.8"/><line x1="15" y1="-2" x2="24" y2="-2" stroke="#000" stroke-width="1.8"/><path d="M112,-22 C122,-26 136,-22 139,-10 L139,10 C136,22 124,25 116,23 C109,18 107,-14 112,-22 Z" fill="#000" stroke="#000" stroke-width="4"/><path d="M114,-14 L117,-19 M113,4 L115,12" stroke="#fff" stroke-width="2.2"/><path d="M126,-12 C132,-10 133,8 126,14" fill="none" stroke="#fff" stroke-width="1.8"/></g>
<g transform="translate(989 1123) rotate(27.5)"><rect x="-4" y="-11" width="112" height="22" rx="11" fill="#fff" stroke="#000" stroke-width="6"/><line x1="40" y1="3" x2="102" y2="3" stroke="#000" stroke-width="1.8"/><line x1="15" y1="-2" x2="24" y2="-2" stroke="#000" stroke-width="1.8"/><path d="M112,-22 C122,-26 136,-22 139,-10 L139,10 C136,22 124,25 116,23 C109,18 107,-14 112,-22 Z" fill="#000" stroke="#000" stroke-width="4"/><path d="M114,-14 L117,-19 M113,4 L115,12" stroke="#fff" stroke-width="2.2"/><path d="M126,-12 C132,-10 133,8 126,14" fill="none" stroke="#fff" stroke-width="1.8"/></g>
<line x1="983.5" y1="1025" x2="1001.2" y2="1034.6" stroke="#000" stroke-width="1.8" />
<line x1="1030.6" y1="1051.5" x2="1055.6" y2="1066.2" stroke="#000" stroke-width="1.8" />
<line x1="960" y1="1100" x2="983.5" y2="1113.3" stroke="#000" stroke-width="1.8" />
<line x1="1183.7" y1="1148.6" x2="1220.2" y2="1196.8" stroke="#000" stroke-width="1.8" />
<line x1="1117.4" y1="1182.5" x2="1220.2" y2="1196.8" stroke="#000" stroke-width="1.8" />
<path d="M1040,950.4 L1339.1,1123.3" fill="none" stroke="#000" stroke-width="6.5" />
<path d="M1343.5,1130 L1343.5,1052 C1344,1043 1348,1038 1356,1036.5 L1582.8,1002.2 C1590,1001 1594,997 1595,991 C1595,986 1597,983 1600,981" fill="none" stroke="#000" stroke-width="5.5" />
<path d="M1347,1062 C1347,1052 1351,1046 1359,1044.5 L1586,1010 C1591,1009 1594,1005 1595,1000" fill="none" stroke="#000" stroke-width="5" />
<path d="M1345.5,1060 C1346,1047 1350,1041 1357.5,1040 L1584,1006" fill="none" stroke="#fff" stroke-width="1.4" />
<path d="M1352.5,1146 L1352.5,1070 C1353,1060 1357,1054 1366,1052.5 L1589,1018.5 C1595,1017 1599,1012 1600,1006" fill="none" stroke="#000" stroke-width="5.5" />
<path d="M1346.5,1062 L1346.5,1136" fill="none" stroke="#000" stroke-width="10" />
<path d="M1343.5,1130 L1349.4,1151.3 C1352,1156 1355,1157.5 1360,1157 L1606.9,1121" fill="none" stroke="#000" stroke-width="5.5" />
<line x1="1606.9" y1="1004.1" x2="1606.9" y2="1121.8" stroke="#000" stroke-width="5.5" />
<line x1="1611.3" y1="1008.6" x2="1611.3" y2="1118" stroke="#000" stroke-width="1.8" />
<ellipse cx="1393.6" cy="1102.4" rx="14.5" ry="12.5" transform="rotate(-15 1393.6 1102.4)" fill="#000"/>
<path d="M1386,1107 C1389,1110 1394,1110 1398,1107" fill="none" stroke="#fff" stroke-width="1.6"/>
<line x1="1381.8" y1="1079.2" x2="1389" y2="1091" stroke="#000" stroke-width="1.8" />
<line x1="1399.4" y1="1114.5" x2="1411.2" y2="1141" stroke="#000" stroke-width="1.8" />
<line x1="1416.4" y1="1154.2" x2="1420" y2="1159.3" stroke="#000" stroke-width="1.8" />
<path d="M1597,983.2 L1708.6,966.2 L1716.2,972.8 L1772.9,981.3" fill="none" stroke="#000" stroke-width="5.5" />
<path d="M1597,983.2 C1590,986 1588,992 1590,997 C1592,1002 1598,1004 1604,1002 L1612,1000" fill="none" stroke="#000" stroke-width="5" />
<path d="M1607.4,1007.8 L1607.4,1123.2 L1621.6,1132.6 C1630,1125 1636,1112 1640.5,1108 C1645,1101 1650,1098.6 1655.7,1098.6 C1662,1098.6 1668,1100 1674.6,1102.4 L1693.5,1113.7 L1759.7,1147.8 C1765,1149 1772,1149 1778.6,1145.9 C1788,1141 1794,1134 1797.5,1127 C1801,1118 1803,1108 1803.2,1098.6 L1803.2,1090" fill="none" stroke="#000" stroke-width="5.5" />
<path d="M1644,1110 C1655,1105 1665,1104 1672,1104" fill="none" stroke="#000" stroke-width="2.5" />
<path d="M1612.2,988.9 L1788,1083.5 C1795,1086 1799,1090 1799.4,1095" fill="none" stroke="#000" stroke-width="5.5" />
<path d="M1612.2,1002.1 L1780.5,1100.5" fill="none" stroke="#000" stroke-width="5.5" />
<path d="M1612.2,995.5 L1784,1092" fill="none" stroke="#fff" stroke-width="1.5" />
<path d="M1799.4,1089.1 L1848,1066 M1803,1096 L1848,1075" fill="none" stroke="#000" stroke-width="5" />
<path d="M1847.4,1074.1 L1849.4,1019.2 C1850,1005 1854,995 1861.6,988.7 C1868,983 1875,980 1882,978.5 L2077.1,866.7 C2083,864 2090,866 2094,870 C2098,874 2099.4,878 2099.4,884 L2097.4,937.9 C2097,944 2093,948 2087.2,950.1 L1855.5,1078.1 C1851,1080 1848,1078 1847.4,1074.1" fill="none" stroke="#000" stroke-width="5.5" />
<path d="M1857.6,1072 L1857.6,1026 C1858,1013 1864,1002 1876,995.5 L2080,879" fill="none" stroke="#000" stroke-width="5.5" />
<path d="M1861.6,1070 L2089.3,942" fill="none" stroke="#fff" stroke-width="1.5" />
<path d="M1862,1075 L2090,946" fill="none" stroke="#000" stroke-width="2" />
<ellipse cx="1879.4" cy="1030.9" rx="10.5" ry="18.5" transform="rotate(15 1879.4 1030.9)" fill="none" stroke="#000" stroke-width="5.5"/>
<ellipse cx="1879.4" cy="1030.9" rx="3" ry="9" transform="rotate(15 1879.4 1030.9)" fill="#fff"/>
<path d="M1774.8,979.4 L1810.8,960.2 C1816,956 1822,952.1 1827.1,952.1 L1845.4,950.1 C1849,947 1851.5,943 1851.5,940 L1855.5,932.8 L1877.9,921.6 L1916.5,901.3 C1925,897 1930,895.2 1936.8,895.2 L1953.1,897.2 C1960,893 1966,889 1969.3,885 C1968,879 1968,872 1969.3,868.8 L2010,848.5" fill="none" stroke="#000" stroke-width="5.5" />
<path d="M1808.8,990.7 L1900.2,942 L2022.2,868.8" fill="none" stroke="#000" stroke-width="5.5" />
<path d="M1847.4,962.3 C1852,958 1862,952 1869.8,952.1 C1872,955 1870,960 1865,962 Z" fill="none" stroke="#000" stroke-width="4" />
<path d="M1953,912 C1962,905 1975,898 1983.6,895.2 C1992,893 2002,894 2016,899 M1950,930 C1956,925 1962,922 1970,921" fill="none" stroke="#000" stroke-width="4" />
<ellipse cx="1799" cy="988" rx="28" ry="15.7" transform="rotate(-5 1799 988)" fill="none" stroke="#000" stroke-width="5.5"/>
<ellipse cx="1806.7" cy="975.5" rx="19.5" ry="15" transform="rotate(0 1806.7 975.5)" fill="#000"/>
<ellipse cx="1897.2" cy="925.2" rx="19.3" ry="16.8" transform="rotate(0 1897.2 925.2)" fill="#000"/>
<ellipse cx="2032.4" cy="847.4" rx="26.4" ry="15.3" transform="rotate(-5 2032.4 847.4)" fill="none" stroke="#000" stroke-width="5.5"/>
<ellipse cx="2028" cy="847.4" rx="17" ry="13" transform="rotate(0 2028 847.4)" fill="#000"/>
<ellipse cx="1805" cy="1046.5" rx="17" ry="10" transform="rotate(25 1805 1046.5)" fill="none" stroke="#000" stroke-width="7.5"/>
<ellipse cx="1805" cy="1046.5" rx="9.350000000000001" ry="3.0" transform="rotate(25 1805 1046.5)" fill="#fff"/>
<line x1="1805" y1="1036.5" x2="1805" y2="1056.5" stroke="#000" stroke-width="2.5" transform="rotate(25 1805 1046.5)"/>
<ellipse cx="2025.2" cy="1049.7" rx="29.5" ry="18.3" transform="rotate(0 2025.2 1049.7)" fill="#000"/>
<ellipse cx="2025.2" cy="1049.7" rx="22" ry="12" transform="rotate(0 2025.2 1049.7)" fill="#fff"/>
<ellipse cx="2025.2" cy="1049.7" rx="13.2" ry="8.1" transform="rotate(0 2025.2 1049.7)" fill="#000"/>
<line x1="1805.6" y1="954.9" x2="1805.6" y2="1030" stroke="#000" stroke-width="1.8" />
<line x1="1805.6" y1="1058" x2="1805.6" y2="1153.5" stroke="#000" stroke-width="1.8" />
<line x1="1895.8" y1="901.3" x2="1895.8" y2="1380" stroke="#000" stroke-width="1.8" stroke-dasharray="40 6 4 6"/>
<line x1="2024.6" y1="828.1" x2="2024.6" y2="1260" stroke="#000" stroke-width="1.8" stroke-dasharray="40 6 4 6"/>
<line x1="1837.2" y1="1007" x2="1849" y2="1015" stroke="#000" stroke-width="1.8" />
<line x1="1888" y1="1041.5" x2="1914.5" y2="1058.8" stroke="#000" stroke-width="1.8" />
<line x1="1924.6" y1="1066" x2="1983.6" y2="1104.6" stroke="#000" stroke-width="1.8" />
<line x1="1623.5" y1="960.5" x2="1706.7" y2="1144" stroke="#000" stroke-width="1.8" stroke-dasharray="30 8 4 8"/>
<line x1="1507.2" y1="767.6" x2="1576.4" y2="863.7" stroke="#000" stroke-width="1.8" />
<line x1="1571.5" y1="850.4" x2="1578.5" y2="863" stroke="#000" stroke-width="1.8" />
<path d="M1568,872 C1572,866 1580,863.5 1590,864 C1600,865 1606,871 1609,880 L1611,900 C1610,906 1606,910 1598,911 L1580,911 C1574,910 1571,905 1569,900 L1565,882 C1565,878 1566,875 1568,872 Z" fill="#000" stroke="#000" stroke-width="3" />
<path d="M1575,879 L1578,874 L1575,886 Z M1593,899 L1599,897 L1597,902 L1590,903 Z M1596,874 L1600,878" stroke="#fff" stroke-width="2" fill="#fff"/>
<ellipse cx="1605" cy="925" rx="24.5" ry="22" transform="rotate(-10 1605 925)" fill="#000"/>
<ellipse cx="1605" cy="925" rx="17" ry="13.5" transform="rotate(-15 1605 925)" fill="none" stroke="#fff" stroke-width="1.6"/>
<ellipse cx="1604" cy="926" rx="7" ry="5.6" transform="rotate(-20 1604 926)" fill="#fff"/>
<line x1="1615" y1="945" x2="1618.5" y2="950" stroke="#000" stroke-width="1.8" />
<line x1="1417" y1="1153.8" x2="1420.4" y2="1159.7" stroke="#000" stroke-width="1.8" />
<line x1="1424.6" y1="1169.9" x2="1434" y2="1187.7" stroke="#000" stroke-width="1.8" />
<ellipse cx="1442.9" cy="1206.9" rx="24.2" ry="21.7" transform="rotate(-15 1442.9 1206.9)" fill="#000"/>
<ellipse cx="1442.9" cy="1206.9" rx="16.456" ry="13.453999999999999" transform="rotate(-15 1442.9 1206.9)" fill="none" stroke="#fff" stroke-width="1.6"/>
<ellipse cx="1441.9" cy="1207.4" rx="7" ry="5.04" transform="rotate(-20 1441.9 1207.4)" fill="#fff"/>
<ellipse cx="1456.8" cy="1239" rx="22" ry="18.3" transform="rotate(-15 1456.8 1239)" fill="#000"/>
<ellipse cx="1456.4" cy="1238.3" rx="7.6" ry="4.7" transform="rotate(-15 1456.4 1238.3)" fill="#fff"/>
<g transform="translate(1486.6 1303.2) rotate(62)"><rect x="-58" y="-10" width="58" height="20" rx="8.0" fill="#fff" stroke="#000" stroke-width="6"/><line x1="-50" y1="1.5" x2="-14" y2="1.5" stroke="#000" stroke-width="1.6"/><path d="M-12.100000000000001,-22 L9.9,-20.9 L22,-2.2 L14.3,19.8 L-8.8,22 L-22,4.4 Z" fill="#000" stroke="#000" stroke-width="4" stroke-linejoin="round"/><ellipse cx="2.2" cy="3.3" rx="12.100000000000001" ry="12.100000000000001" fill="#fff"/><line x1="-6.6" y1="-12.100000000000001" x2="6.6" y2="14.3" stroke="#000" stroke-width="1.6"/><line x1="-16.5" y1="-11.0" x2="-15.399999999999999" y2="6.6" stroke="#fff" stroke-width="2"/></g>
<line x1="1505.3" y1="1290.4" x2="1605.8" y2="1232.3" stroke="#000" stroke-width="1.8" />
<line x1="1700.5" y1="1130" x2="1708" y2="1142.7" stroke="#000" stroke-width="1.8" />
<ellipse cx="1715.4" cy="1163.5" rx="24.2" ry="21.7" transform="rotate(-15 1715.4 1163.5)" fill="#000"/>
<ellipse cx="1715.4" cy="1163.5" rx="16.456" ry="13.453999999999999" transform="rotate(-15 1715.4 1163.5)" fill="none" stroke="#fff" stroke-width="1.6"/>
<ellipse cx="1714.4" cy="1164.0" rx="7" ry="5.04" transform="rotate(-20 1714.4 1164.0)" fill="#fff"/>
<g transform="translate(1751 1243.3) rotate(62)"><rect x="-60" y="-10" width="60" height="20" rx="8.0" fill="#fff" stroke="#000" stroke-width="6"/><line x1="-52" y1="1.5" x2="-14" y2="1.5" stroke="#000" stroke-width="1.6"/><path d="M-11.55,-21 L9.450000000000001,-19.95 L21,-2.1 L13.65,18.900000000000002 L-8.4,21 L-21,4.2 Z" fill="#000" stroke="#000" stroke-width="4" stroke-linejoin="round"/><ellipse cx="2.1" cy="3.15" rx="11.55" ry="11.55" fill="#fff"/><line x1="-6.3" y1="-11.55" x2="6.3" y2="13.65" stroke="#000" stroke-width="1.6"/><line x1="-15.75" y1="-10.5" x2="-14.7" y2="6.3" stroke="#fff" stroke-width="2"/></g>
<ellipse cx="1806.7" cy="1174.2" rx="29.3" ry="20.1" transform="rotate(0 1806.7 1174.2)" fill="#000"/>
<ellipse cx="1806.7" cy="1174.2" rx="22.8" ry="14.600000000000001" transform="rotate(0 1806.7 1174.2)" fill="#fff"/>
<ellipse cx="1806.7" cy="1174.7" rx="13" ry="8" transform="rotate(0 1806.7 1174.7)" fill="#000"/>
<ellipse cx="1806.7" cy="1246.5" rx="19.6" ry="13" transform="rotate(0 1806.7 1246.5)" fill="#000"/>
<rect x="1793.7" y="1288.8" width="25.0" height="71.79999999999995" rx="12.5" fill="#000"/>
<rect x="1800.2" y="1304.8" width="12" height="41.799999999999955" fill="#fff"/>
<line x1="1806.2" y1="1304.8" x2="1806.2" y2="1346.6" stroke="#000" stroke-width="1.8" />
<rect x="1787.7" y="1344.6" width="37.0" height="30" rx="13" fill="#000"/>
<path d="M1795.2,1361.6 C1801.2,1365.6 1811.2,1365.6 1817.2,1361.6" fill="none" stroke="#fff" stroke-width="1.8"/>
<path d="M1797.2,1354.6 C1802.2,1357.6 1810.2,1357.6 1815.2,1354.6" fill="none" stroke="#fff" stroke-width="1.5"/>
<line x1="1805.6" y1="1194" x2="1805.6" y2="1233" stroke="#000" stroke-width="1.8" />
<line x1="1805.6" y1="1260" x2="1805.6" y2="1272" stroke="#000" stroke-width="1.8" />
<line x1="1805.6" y1="1283" x2="1805.6" y2="1289" stroke="#000" stroke-width="1.8" />
<line x1="1805.6" y1="1374" x2="1805.6" y2="1388.7" stroke="#000" stroke-width="1.8" />
<ellipse cx="1896.8" cy="1119.4" rx="29.3" ry="19.6" transform="rotate(0 1896.8 1119.4)" fill="#000"/>
<ellipse cx="1896.8" cy="1119.4" rx="22.8" ry="14.100000000000001" transform="rotate(0 1896.8 1119.4)" fill="#fff"/>
<ellipse cx="1896.8" cy="1119.9" rx="13" ry="8" transform="rotate(0 1896.8 1119.9)" fill="#000"/>
<ellipse cx="1896.8" cy="1191.6" rx="19.6" ry="12.5" transform="rotate(0 1896.8 1191.6)" fill="#000"/>
<rect x="1883.8" y="1233.4" width="25.0" height="70.69999999999982" rx="12.5" fill="#000"/>
<rect x="1890.3" y="1249.4" width="12" height="40.69999999999982" fill="#fff"/>
<line x1="1896.3" y1="1249.4" x2="1896.3" y2="1290.1" stroke="#000" stroke-width="1.8" />
<rect x="1877.8" y="1288.1" width="37.0" height="30" rx="13" fill="#000"/>
<path d="M1885.3,1305.1 C1891.3,1309.1 1901.3,1309.1 1907.3,1305.1" fill="none" stroke="#fff" stroke-width="1.8"/>
<path d="M1887.3,1298.1 C1892.3,1301.1 1900.3,1301.1 1905.3,1298.1" fill="none" stroke="#fff" stroke-width="1.5"/>
<ellipse cx="2024.5" cy="1122" rx="20.1" ry="12.5" transform="rotate(0 2024.5 1122)" fill="#000"/>
<rect x="2012.5" y="1163.9" width="25.0" height="71.79999999999995" rx="12.5" fill="#000"/>
<rect x="2019" y="1179.9" width="12" height="41.799999999999955" fill="#fff"/>
<line x1="2025" y1="1179.9" x2="2025" y2="1221.7" stroke="#000" stroke-width="1.8" />
<rect x="2007" y="1219.7" width="36" height="30" rx="13" fill="#000"/>
<path d="M2014,1236.7 C2020,1240.7 2030,1240.7 2036,1236.7" fill="none" stroke="#fff" stroke-width="1.8"/>
<path d="M2016,1229.7 C2021,1232.7 2029,1232.7 2034,1229.7" fill="none" stroke="#fff" stroke-width="1.5"/>
<line x1="1914.2" y1="1293.1" x2="2268.7" y2="1408" stroke="#000" stroke-width="1.8" />
<line x1="1825.2" y1="1360.5" x2="2268.7" y2="1408" stroke="#000" stroke-width="1.8" />
<line x1="2042.4" y1="1226.9" x2="2268.7" y2="1408" stroke="#000" stroke-width="1.8" />
<line x1="1887" y1="1040" x2="1955.5" y2="1090" stroke="#000" stroke-width="1.8" />
<line x1="1983.8" y1="1105.2" x2="1994.6" y2="1111.7" stroke="#000" stroke-width="1.8" />
<line x1="2027.2" y1="1134.5" x2="2072.2" y2="1164.1" stroke="#000" stroke-width="1.8" />
<line x1="2112.5" y1="1190.6" x2="2132.7" y2="1203.9" stroke="#000" stroke-width="1.8" />
<line x1="2158.6" y1="1220.9" x2="2160.5" y2="1222" stroke="#000" stroke-width="1.8" />
<line x1="2170.5" y1="1228.5" x2="2178.7" y2="1234.1" stroke="#000" stroke-width="1.8" />
<line x1="2241.8" y1="1276.4" x2="2248.1" y2="1280.2" stroke="#000" stroke-width="1.8" />
<ellipse cx="2095.5" cy="1180" rx="22" ry="30" transform="rotate(35 2095.5 1180)" fill="#000"/>
<ellipse cx="2096" cy="1180" rx="15" ry="22.5" transform="rotate(35 2096 1180)" fill="#fff"/>
<ellipse cx="2097" cy="1179" rx="9" ry="12" transform="rotate(35 2097 1179)" fill="#000"/>
<ellipse cx="2145" cy="1212.4" rx="15" ry="20" transform="rotate(30 2145 1212.4)" fill="#000"/>
<g transform="translate(2190 1242) rotate(33)"><rect x="-12" y="-12" width="46" height="24" rx="11" fill="#000"/><line x1="10" y1="-4" x2="32" y2="-4" stroke="#fff" stroke-width="3"/><line x1="8" y1="4" x2="30" y2="4" stroke="#fff" stroke-width="3"/><path d="M34,-21 L50,-19 L54,0 L50,19 L34,21 Z" fill="#000" stroke="#000" stroke-width="5" stroke-linejoin="round"/><ellipse cx="46" cy="0" rx="4.5" ry="12" fill="#fff"/><line x1="35" y1="-10" x2="36" y2="8" stroke="#fff" stroke-width="2"/></g>
<line x1="2201.4" y1="1233.5" x2="2272" y2="1159.1" stroke="#000" stroke-width="1.8" />
<g transform="translate(222.6 361) rotate(8.5)"><rect x="-14" y="-21.5" width="28" height="43" rx="9" fill="#000"/><rect x="-7" y="-14" width="5" height="12" rx="2" fill="#fff"/><rect x="-8" y="4" width="5" height="11" fill="#fff"/><rect x="8" y="-13" width="74" height="26" rx="9" fill="#000"/><rect x="17" y="-7" width="58" height="14" fill="#fff"/><line x1="17" y1="0" x2="75" y2="1" stroke="#000" stroke-width="1.8"/></g>
<line x1="195.1" y1="358.2" x2="208" y2="359.5" stroke="#000" stroke-width="1.8" />
<line x1="315.3" y1="377" x2="325" y2="377" stroke="#000" stroke-width="1.8" />
<line x1="336.2" y1="379.6" x2="348.9" y2="381.1" stroke="#000" stroke-width="1.8" />
<line x1="367.2" y1="383.2" x2="398.8" y2="387.7" stroke="#000" stroke-width="1.8" />
</svg></body></html>
